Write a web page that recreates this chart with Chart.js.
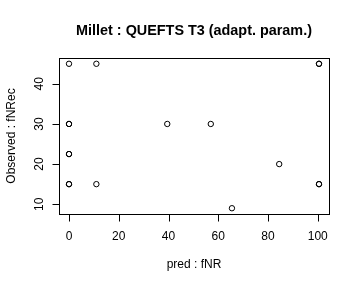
<!DOCTYPE html>
<html>
<head>
<meta charset="utf-8">
<script src="https://cdn.jsdelivr.net/npm/chart.js@4"></script>
<style>
html,body{margin:0;padding:0;background:#fff;}
#wrap{width:360px;height:288px;}
</style>
</head>
<body>
<div id="wrap"><canvas id="c" width="360" height="288"></canvas></div>
<script>
const chartTitle = "Millet : QUEFTS T3 (adapt. param.)";
const xTitle = "pred : fNR";
const yTitle = "Observed : fNRec";
const predFNR  = [0, 11, 0, 0, 0, 0, 0, 0, 11, 39.5, 57, 65.5, 84.5, 100.5, 100.5, 100.5, 100.5];
const observed = [45, 45, 30, 30, 22.5, 22.5, 15, 15, 15, 30, 30, 9, 20, 45, 45, 15, 15];
const xTicks = [0, 20, 40, 60, 80, 100];
const yTicks = [10, 20, 30, 40];

const points = predFNR.map((v, i) => ({x: v, y: observed[i]}));

const rAxes = {
  id: 'rAxes',
  afterDraw(chart) {
    const ctx = chart.ctx;
    const a = chart.chartArea;
    const xs = chart.scales.x, ys = chart.scales.y;
    ctx.save();
    ctx.strokeStyle = '#000';
    ctx.fillStyle = '#000';
    ctx.lineWidth = 1;
    ctx.strokeRect(Math.round(a.left) + 0.5, Math.round(a.top) + 0.5,
                   Math.round(a.right - a.left), Math.round(a.bottom - a.top));
    const tl = 7;
    ctx.beginPath();
    const bx = Math.round(a.bottom) + 0.5;
    ctx.moveTo(Math.round(xs.getPixelForValue(xTicks[0])) + 0.5, bx);
    ctx.lineTo(Math.round(xs.getPixelForValue(xTicks[xTicks.length - 1])) + 0.5, bx);
    xTicks.forEach(t => {
      const px = Math.round(xs.getPixelForValue(t)) + 0.5;
      ctx.moveTo(px, bx);
      ctx.lineTo(px, bx + tl);
    });
    const lx = Math.round(a.left) + 0.5;
    ctx.moveTo(lx, Math.round(ys.getPixelForValue(yTicks[0])) + 0.5);
    ctx.lineTo(lx, Math.round(ys.getPixelForValue(yTicks[yTicks.length - 1])) + 0.5);
    yTicks.forEach(t => {
      const py = Math.round(ys.getPixelForValue(t)) + 0.5;
      ctx.moveTo(lx, py);
      ctx.lineTo(lx - tl, py);
    });
    ctx.stroke();
    ctx.font = '12px "Liberation Sans", Arial, sans-serif';
    ctx.textAlign = 'center';
    ctx.textBaseline = 'middle';
    xTicks.forEach(t => {
      ctx.fillText(String(t), xs.getPixelForValue(t), 237);
    });
    yTicks.forEach(t => {
      ctx.save();
      ctx.translate(40, ys.getPixelForValue(t));
      ctx.rotate(-Math.PI / 2);
      ctx.fillText(String(t), 0, 0);
      ctx.restore();
    });
    ctx.fillText(xTitle, (a.left + a.right) / 2, 265);
    ctx.save();
    ctx.translate(12, (a.top + a.bottom) / 2);
    ctx.rotate(-Math.PI / 2);
    ctx.fillText(yTitle, 0, 0);
    ctx.restore();
    ctx.font = 'bold 14.4px "Liberation Sans", Arial, sans-serif';
    ctx.fillText(chartTitle, (a.left + a.right) / 2, 31);
    ctx.restore();
  }
};

new Chart(document.getElementById('c'), {
  type: 'scatter',
  data: {
    datasets: [{
      data: points,
      pointStyle: 'circle',
      pointRadius: 2.7,
      pointHoverRadius: 2.7,
      borderColor: '#000',
      backgroundColor: 'rgba(0,0,0,0)',
      borderWidth: 1
    }]
  },
  options: {
    responsive: false,
    animation: false,
    devicePixelRatio: 1,
    layout: {padding: {left: 59, right: 31, top: 58, bottom: 74}},
    plugins: {legend: {display: false}, title: {display: false}, tooltip: {enabled: false}},
    scales: {
      x: {type: 'linear', display: false, min: -4.02, max: 104.52},
      y: {type: 'linear', display: false, min: 7.56, max: 46.44}
    }
  },
  plugins: [rAxes]
});
</script>
</body>
</html>
